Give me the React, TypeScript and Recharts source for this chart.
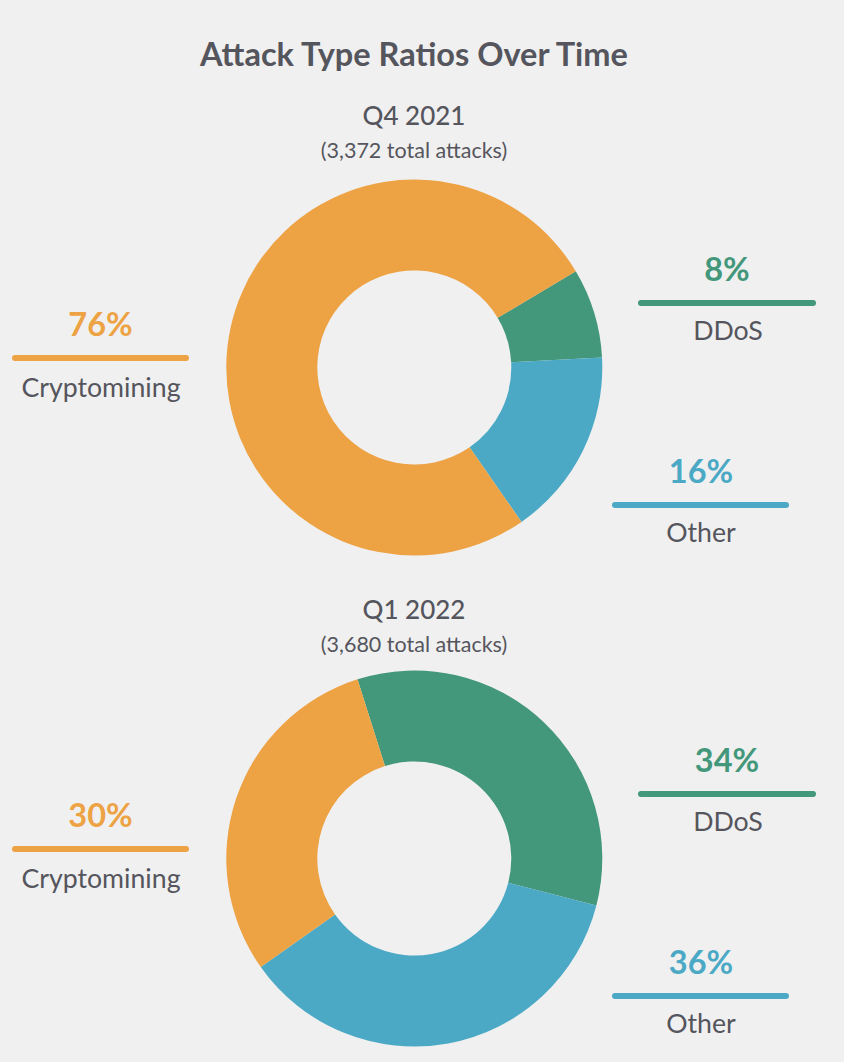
import React from 'react';
import { PieChart, Pie, Cell } from 'recharts';

const categories = ['DDoS', 'Other', 'Cryptomining'];
const colors = ['#43977a', '#4ba9c6', '#eda244'];
const periods = ['Q4 2021', 'Q1 2022'];
const totals = ['3,372', '3,680'];
const q4Values = [7.7, 16.2, 76.1];
const q1Values = [33.9, 36.2, 29.9];
const startAngles = [30.8, 107.6];

const W = 844;
const H = 1062;
const TEXT = '#55555d';
const FONT = 'Lato, "Noto Sans", sans-serif';

const seriesList = [q4Values, q1Values];
const tables = seriesList.map((vals) => categories.map((name, i) => ({ name, value: vals[i] })));

const panelTop = [0, 491];

export default function App() {
  return (
    <div style={{ position: 'absolute', left: 0, top: 0, width: W, height: H, background: '#f0f0f0', fontFamily: FONT }}>
      <PieChart width={W} height={H} margin={{ top: 0, right: 0, bottom: 0, left: 0 }} style={{ position: 'absolute', left: 0, top: 0 }}>
        {tables.map((data, p) => (
          <Pie
            key={p}
            data={data}
            dataKey="value"
            nameKey="name"
            cx={414.3}
            cy={367.5 + panelTop[p]}
            innerRadius={97}
            outerRadius={188}
            startAngle={startAngles[p]}
            endAngle={startAngles[p] - 360}
            stroke="none"
            isAnimationActive={false}
            label={false}
            labelLine={false}
          >
            {data.map((d, i) => (
              <Cell key={d.name} fill={colors[i]} />
            ))}
          </Pie>
        ))}
      </PieChart>
      <svg width={W} height={H} style={{ position: 'absolute', left: 0, top: 0, pointerEvents: 'none' }}>
        <text x={414} y={66} textAnchor="middle" fontSize={32.5} fontWeight={700} fill={TEXT} fontFamily={FONT}>
          Attack Type Ratios Over Time
        </text>
        {periods.map((per, p) => {
          const hy = p === 0 ? 0 : 494;
          const off = panelTop[p];
          const vals = seriesList[p];
          return (
            <g key={per}>
              <text x={414} y={125 + hy} textAnchor="middle" fontSize={26} fontWeight={500} fill={TEXT} fontFamily={FONT}>
                {per}
              </text>
              <text x={414} y={158 + hy} textAnchor="middle" fontSize={21.5} fill={TEXT} fontFamily={FONT}>
                {`(${totals[p]} total attacks)`}
              </text>
              {/* Cryptomining (left) */}
              <text x={100.5} y={336 + off} textAnchor="middle" fontSize={32.5} fontWeight={700} fill={colors[2]} fontFamily={FONT}>
                {`${Math.round(vals[2])}%`}
              </text>
              <line x1={15} x2={186} y1={358 + off} y2={358 + off} stroke={colors[2]} strokeWidth={6} strokeLinecap="round" />
              <text x={101} y={397 + off} textAnchor="middle" fontSize={26.7} fill={TEXT} fontFamily={FONT}>
                {categories[2]}
              </text>
              {/* DDoS (right top) */}
              <text x={727} y={281 + off} textAnchor="middle" fontSize={32.5} fontWeight={700} fill={colors[0]} fontFamily={FONT}>
                {`${Math.round(vals[0])}%`}
              </text>
              <line x1={641} x2={813} y1={303 + off} y2={303 + off} stroke={colors[0]} strokeWidth={6} strokeLinecap="round" />
              <text x={728} y={340 + off} textAnchor="middle" fontSize={26.7} fill={TEXT} fontFamily={FONT}>
                {categories[0]}
              </text>
              {/* Other (right bottom) */}
              <text x={701} y={483 + off} textAnchor="middle" fontSize={32.5} fontWeight={700} fill={colors[1]} fontFamily={FONT}>
                {`${Math.round(vals[1])}%`}
              </text>
              <line x1={615} x2={786} y1={505 + off} y2={505 + off} stroke={colors[1]} strokeWidth={6} strokeLinecap="round" />
              <text x={701} y={542 + off} textAnchor="middle" fontSize={26.7} fill={TEXT} fontFamily={FONT}>
                {categories[1]}
              </text>
            </g>
          );
        })}
      </svg>
    </div>
  );
}
